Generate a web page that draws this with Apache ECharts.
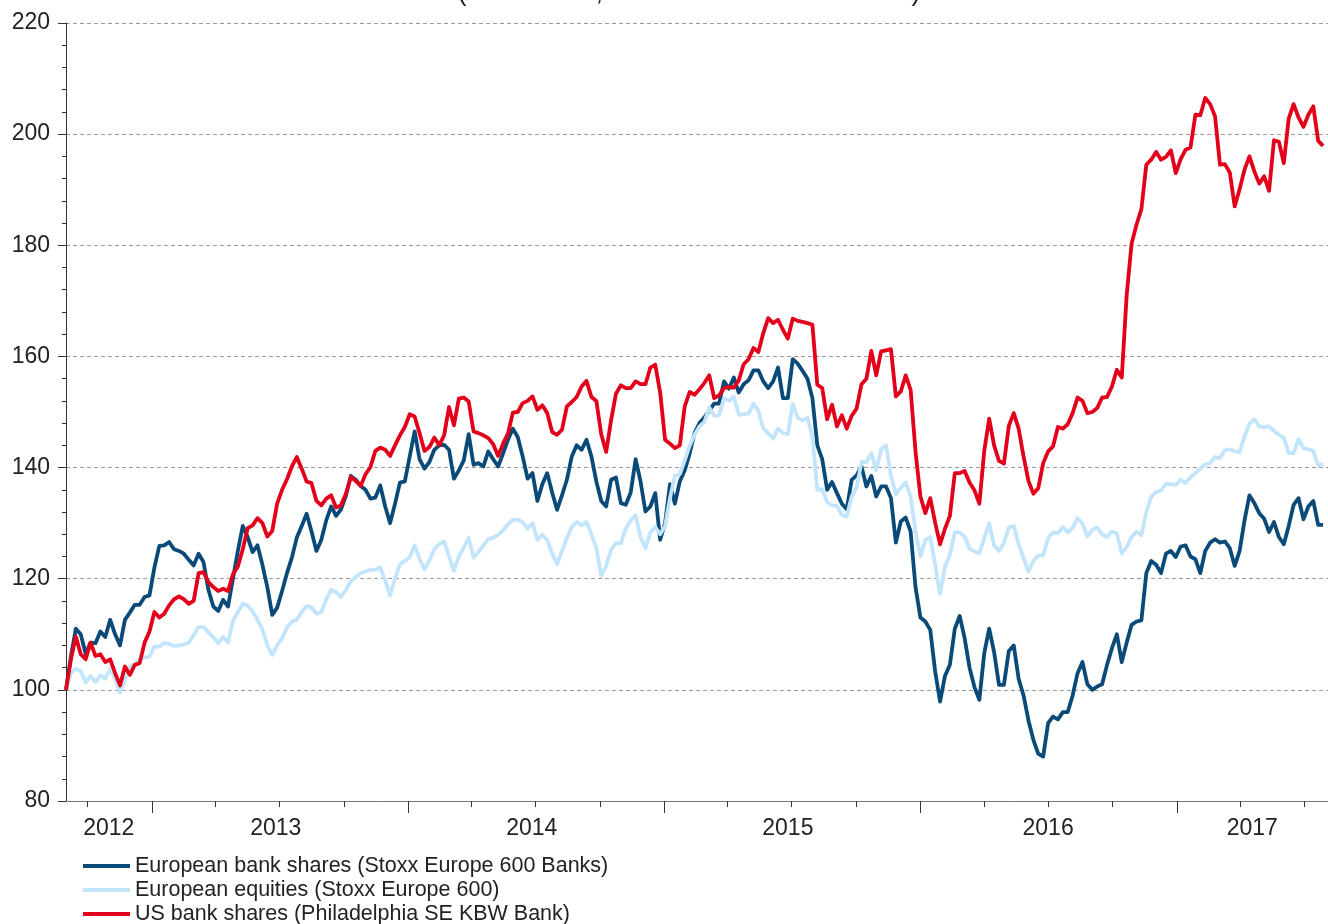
<!DOCTYPE html>
<html>
<head>
<meta charset="utf-8">
<title>Bank shares vs equities</title>
<script src="https://cdn.jsdelivr.net/npm/echarts@6/dist/echarts.min.js"></script>
<style>
  html, body { margin: 0; padding: 0; background: #fff; }
  #chart { width: 1328px; height: 924px; }
</style>
</head>
<body>
<div id="chart"></div>
<script>
// weekly closes, rebased to 100 at the first observation
const seriesNames = [
  "European bank shares (Stoxx Europe 600 Banks)",
  "European equities (Stoxx Europe 600)",
  "US bank shares (Philadelphia SE KBW Bank)"
];
const seriesColors = ["#0a4a78", "#c2e5fb", "#e2001a"];

const euBanks = [
  100, 106, 111, 110, 106.5, 108.5, 108.4, 110.5, 109.5, 112.6, 110, 108, 112.6,
  113.9, 115.3, 115.3, 116.7, 117, 122, 125.9, 126, 126.6, 125.3, 125, 124.5, 123.4,
  122.4, 124.5, 123, 118, 115, 114.2, 116.2, 115, 120, 125, 129.5, 127.5, 124.8,
  126, 122.5, 118.5, 113.5, 114.8, 117.8, 121, 123.8, 127.4, 129.5, 131.7, 128.5, 125,
  127, 130.5, 133, 131.3, 132.5, 134.9, 138.5, 137.8, 136.7, 136, 134.4, 134.6, 136.8,
  133, 130, 133.5, 137.3, 137.5, 142, 146.5, 141.5, 139.8, 141, 143.2, 144, 144.1,
  143.2, 138, 139.5, 141.3, 146, 140.5, 140.8, 140.2, 142.9, 141.5, 140.2, 142.5, 145,
  147, 145.5, 142, 138, 139, 134, 137, 139, 135.5, 132.4, 135, 137.8, 142,
  144, 143.2, 145, 142, 137.5, 134, 133, 137.8, 138.2, 133.6, 133.3, 135.5, 141.5,
  137.5, 132.1, 133, 135.4, 127, 130, 137, 133.5, 137.5, 139.5, 142.5, 146.2, 148,
  149, 150.3, 151.5, 151.5, 155.5, 154.2, 156.2, 153.5, 155, 155.7, 157.5, 157.5, 155.5,
  154.3, 155.5, 158, 152.5, 152.5, 159.5, 158.7, 157.4, 156, 152.5, 144, 141.5, 136,
  137.4, 135.4, 133.5, 132.5, 137.8, 138.6, 140.2, 136.6, 138.5, 134.8, 136.6, 136.6, 134.5,
  126.5, 130.3, 131, 128.5, 118.5, 113, 112.3, 110.8, 103.3, 97.9, 102.5, 104.5, 111,
  113.3, 109.3, 104, 100.5, 98.2, 106.6, 111, 106.8, 100.9, 100.9, 107, 108, 102,
  99, 94.5, 91, 88.5, 88, 94, 95.2, 94.7, 96, 96, 99, 103, 105,
  101, 100, 100.6, 101, 104.5, 107.5, 110, 105, 108.5, 111.7, 112.3, 112.5, 121,
  123.2, 122.5, 121, 124.5, 125, 123.9, 125.8, 126, 124, 123.5, 121, 125, 126.5,
  127.1, 126.5, 126.7, 125.5, 122.3, 125, 130.5, 135, 133.6, 131.8, 130.8, 128.4, 130.2,
  127.5, 126.2, 129.5, 133.3, 134.5, 130.7, 133, 134, 129.7, 129.7
];

const euEquities = [
  100, 103, 103.8, 103.4, 101.3, 102.5, 101.4, 102.6, 102, 103.8, 102, 99.5, 101.8,
  104.2, 104.6, 105.5, 105.8, 106, 107.8, 107.8, 108.4, 108.3, 107.9, 108, 108.2, 108.5,
  109.8, 111.3, 111.3, 110.4, 109.5, 108.4, 109.5, 108.5, 112.4, 114, 115.5, 115.2, 114.1,
  112.6, 110.9, 108, 106.3, 108, 109.3, 111.2, 112.3, 112.6, 114, 115.1, 114.8, 113.7,
  114, 116.3, 118, 117.6, 116.7, 118, 119.5, 120.3, 121, 121.3, 121.6, 121.6, 122,
  119.7, 117, 120, 122.6, 123.2, 123.9, 126, 123.6, 121.7, 123.3, 125.3, 126.2, 126.7,
  124, 121.4, 124, 125.6, 127.4, 123.8, 124.8, 126, 127.1, 127.4, 127.9, 128.7, 129.8,
  130.6, 130.6, 130.2, 129, 130, 127, 127.9, 127, 124.5, 122.6, 125, 127.3, 129.3,
  130.2, 129.6, 130.2, 128, 125.6, 120.5, 122.3, 125.2, 126.4, 126.4, 129, 130.5, 131.4,
  127.5, 125.5, 128.3, 129.3, 128, 129.5, 134.5, 138.5, 138.8, 141.3, 143.9, 145.9, 147.4,
  148.2, 150.8, 149.3, 149.4, 152.5, 152, 152.8, 149.5, 149.6, 149.7, 151.5, 150.2, 147,
  146.2, 145.2, 147, 146.2, 146, 151.5, 149, 148.5, 149, 145.5, 136, 136.1, 133.8,
  133.2, 133.1, 131.5, 131.2, 134.8, 136.4, 141, 141, 142.6, 139.5, 143.3, 144, 138.5,
  135.2, 136.4, 137.3, 134.8, 128.5, 124, 127, 127.5, 122.5, 117.3, 122.2, 124.3, 128.4,
  128.3, 127.6, 125.4, 124.9, 124.6, 127.3, 130, 126, 125, 126.4, 129.2, 129.5, 126.2,
  123.7, 121.3, 123.2, 124.2, 124.2, 127.3, 128.3, 128.2, 129.3, 128.3, 129.2, 130.9, 129.9,
  127.6, 128.8, 129.2, 128, 127.5, 128.5, 128.2, 124.5, 125.7, 127.5, 128.5, 127.8, 132,
  134.7, 135.6, 135.9, 137.1, 137, 136.9, 137.8, 137.2, 138.3, 139, 139.8, 140.6, 140.8,
  141.9, 141.7, 143.1, 143.3, 142.9, 142.8, 145.6, 147.9, 148.7, 147.4, 147.3, 147.4, 146.6,
  145.9, 145.4, 142.6, 142.6, 145.1, 143.5, 143.3, 143, 140.4, 140.7
];

const usBanks = [
  100, 105.5, 109.6, 106.4, 105.5, 108.5, 106.1, 106.4, 105, 105.5, 103, 100.8, 104.2,
  102.7, 104.5, 104.8, 108.5, 110.5, 114, 113, 113.7, 115.2, 116.3, 116.8, 116.3, 115.5,
  116, 121, 121.2, 119.4, 118.5, 117.8, 118.2, 117.8, 120.8, 122.2, 125.3, 129.1, 129.6,
  130.9, 130, 127.6, 128.6, 133.5, 136, 137.9, 140.2, 141.9, 139.8, 137.5, 137.2, 134,
  133.2, 134.4, 135, 132.8, 133.2, 135.3, 138.3, 137.6, 136.7, 138.8, 140.1, 143, 143.6,
  143.2, 142.1, 144, 145.8, 147.3, 149.6, 149.2, 146.2, 143, 143.7, 145.4, 144, 145.8,
  150.9, 147.6, 152.4, 152.6, 151.9, 146.5, 146.2, 145.8, 145.3, 144.2, 142.1, 144.3, 146.1,
  149.9, 150, 151.6, 152, 152.8, 150.4, 151.2, 149.8, 146.4, 145.9, 146.8, 151, 151.8,
  152.7, 154.6, 155.6, 152.7, 152, 146, 142.8, 148.5, 153.3, 154.8, 154.3, 154.3, 155.5,
  155, 155, 158, 158.5, 153.5, 145, 144.3, 143.5, 144, 151, 153.6, 153.1, 154.1,
  155.2, 156.6, 152.5, 153, 154.3, 154.5, 154.4, 155.7, 158.6, 159.5, 161.5, 160.8, 164.2,
  166.9, 166, 166.6, 164.8, 163.2, 166.8, 166.4, 166.2, 166, 165.7, 154.9, 154.3, 148.7,
  151.3, 147.4, 149.4, 147, 149.3, 150.6, 155, 156, 161, 156.6, 160.9, 161.1, 161.3,
  152.8, 153.7, 156.6, 154, 142.9, 134.8, 131.8, 134.5, 130.1, 126.2, 129, 131.3, 139,
  139, 139.4, 137.3, 135.9, 133.5, 143, 148.8, 144, 141.2, 140.7, 147.5, 149.8, 147,
  142, 137.6, 135.3, 136.3, 140.8, 142.9, 143.8, 147.3, 147, 147.8, 149.8, 152.6, 152,
  149.8, 150, 150.7, 152.6, 152.7, 154.6, 157.6, 156.2, 171, 180.3, 183.7, 186.5, 194.5,
  195.4, 196.8, 195.4, 195.9, 197.1, 193, 195.5, 197.2, 197.6, 203.5, 203.4, 206.5, 205.4,
  203.2, 194.5, 194.6, 193.1, 187, 190.1, 193.6, 196, 193.3, 191.1, 192.4, 189.8, 198.9,
  198.6, 194.8, 202.8, 205.4, 203, 201.3, 203.5, 205, 198.8, 197.9
];

// year labels sit in the middle of the visible part of each year
const yearLabelDates = ["2012-10-31", "2013-06-26", "2014-06-26", "2015-06-26", "2016-07-01", "2017-04-18"];

const DAY = 86400000;
const firstWeek = Date.UTC(2012, 7, 31);
const axisEnd = Date.UTC(2017, 7, 4);
const fontFamily = "'Liberation Sans', Arial, sans-serif";

const weekDates = euBanks.map((_, i) => firstWeek + i * 7 * DAY);

const quarterTicks = [];
for (let y = 2012; y <= 2017; y++) {
  for (let m = 0; m < 12; m += 3) {
    const t = Date.UTC(y, m, 1);
    if (t > firstWeek && t < axisEnd) quarterTicks.push(t);
  }
}
const yearTicks = [2013, 2014, 2015, 2016, 2017].map((y) => Date.UTC(y, 0, 1));
const labelValues = yearLabelDates.map((d) => Date.parse(d + "T00:00:00Z"));

const chart = echarts.init(document.getElementById("chart"));

const xBase = {
  type: "value",
  min: firstWeek,
  max: axisEnd,
  splitLine: { show: false },
};

chart.setOption({
  animation: false,
  backgroundColor: "#fff",
  color: seriesColors,
  graphic: [
    {
      type: "text",
      x: 689,
      y: 6,
      style: {
        text: "(2012-2017, rebased 01.01.2012=100)",
        fontSize: 27,
        fontFamily: fontFamily,
        fill: "#222",
        align: "center",
        verticalAlign: "bottom",
      },
    },
  ],
  grid: { left: 66, top: 23, right: 0, bottom: 123, containLabel: false },
  legend: {
    orient: "vertical",
    left: 83,
    top: 854,
    height: 120,
    padding: 0,
    icon: "rect",
    itemWidth: 47,
    itemHeight: 4,
    itemGap: 0,
    textStyle: { fontSize: 21.5, lineHeight: 24, color: "#222", fontFamily: fontFamily },
    data: seriesNames,
  },
  xAxis: [
    Object.assign({}, xBase, {
      position: "bottom",
      axisLine: { show: true, lineStyle: { color: "#777", width: 1 } },
      axisTick: { show: true, customValues: quarterTicks, length: 6, lineStyle: { color: "#333" } },
      axisLabel: {
        customValues: labelValues,
        margin: 16,
        fontSize: 23,
        color: "#222",
        fontFamily: fontFamily,
        formatter: (v) => String(new Date(v).getUTCFullYear()),
      },
    }),
    Object.assign({}, xBase, {
      position: "bottom",
      axisLine: { show: false },
      axisTick: { show: true, customValues: yearTicks, length: 12, lineStyle: { color: "#333" } },
      axisLabel: { show: false },
    }),
  ],
  yAxis: {
    type: "value",
    min: 80,
    max: 220,
    interval: 20,
    axisLine: { show: true, lineStyle: { color: "#333", width: 1 } },
    axisTick: { show: true, length: 8, lineStyle: { color: "#333" } },
    minorTick: { show: true, splitNumber: 5, length: 4, lineStyle: { color: "#333" } },
    axisLabel: { margin: 16, fontSize: 23, color: "#222", fontFamily: fontFamily },
    splitLine: { show: true, lineStyle: { color: "#9a9a9a", type: [4, 3], width: 1 } },
  },
  series: [euBanks, euEquities, usBanks].map((vals, k) => ({
    name: seriesNames[k],
    type: "line",
    xAxisIndex: 0,
    symbol: "none",
    showSymbol: false,
    data: vals.map((v, i) => [weekDates[i], v]),
    lineStyle: { width: 3.8, color: seriesColors[k], join: "round" },
    itemStyle: { color: seriesColors[k] },
    z: 2 + k,
  })),
});
</script>
</body>
</html>
